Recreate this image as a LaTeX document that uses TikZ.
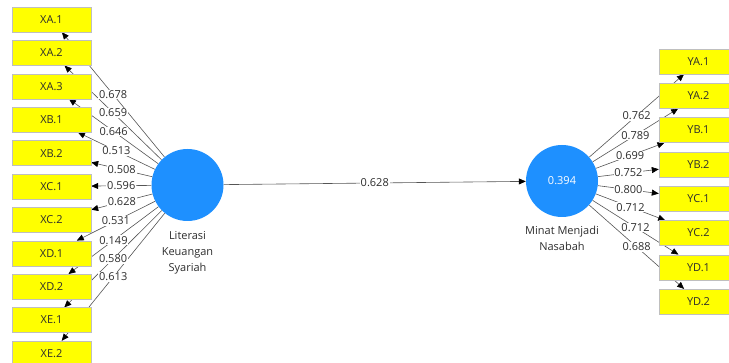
\documentclass[tikz,border=0pt]{standalone}
\usepackage{fontspec}
\setmainfont{Open Sans}
\usetikzlibrary{arrows.meta}
\pgfdeclarelayer{edges}
\pgfdeclarelayer{labels}
\pgfsetlayers{edges,labels,main}
\definecolor{lv}{RGB}{30,144,255}
\definecolor{boxfill}{RGB}{255,255,0}
\definecolor{edgecol}{RGB}{85,85,85}
\definecolor{txt}{RGB}{45,45,45}
\tikzset{
  ind/.style={draw=black!25, fill=boxfill, minimum width=79pt, minimum height=25pt, inner sep=0pt, font=\fontsize{11}{12}\selectfont, text=txt},
  lvar/.style={circle, fill=lv, minimum size=72pt, inner sep=0pt},
  edgeline/.style={draw=edgecol, line width=0.6pt, -{Triangle[length=7pt,width=6pt,color=black]}},
  wlab/.style={fill=white, inner sep=0.8pt, font=\fontsize{11}{12}\selectfont, text=txt},
  lvname/.style={align=center, inner sep=0pt, anchor=north, font=\fontsize{11}{16}\selectfont, text=txt},
}
\begin{document}
\begin{tikzpicture}[x=1pt,y=-1pt]
\useasboundingbox (0,0) rectangle (729,363);
\clip (0,0) rectangle (729,363);
\node[lvar] (L) at (187.5,185) {};
\node[lvar, text=white, font=\fontsize{11}{12}\selectfont] (M) at (562,181) {0.394};
\node[lvname] (Lname) at ([yshift=-10pt]L.south) {Literasi\\Keuangan\\Syariah};
\node[lvname] (Mname) at ([yshift=-9pt]M.south) {Minat Menjadi\\Nasabah};
\foreach \nm/\t [count=\i from 0] in {xa1/XA.1,xa2/XA.2,xa3/XA.3,xb1/XB.1,xb2/XB.2,xc1/XC.1,xc2/XC.2,xd1/XD.1,xd2/XD.2,xe1/XE.1,xe2/XE.2}
  \node[ind] (\nm) at (51.5,19.5+33.4*\i) {\t};
\foreach \nm/\t [count=\i from 0] in {ya1/YA.1,ya2/YA.2,yb1/YB.1,yb2/YB.2,yc1/YC.1,yc2/YC.2,yd1/YD.1,yd2/YD.2}
  \node[ind] (\nm) at (698.5,61.5+34.3*\i) {\t};
\begin{pgfonlayer}{edges}
  \foreach \nm in {xa1,xa2,xa3,xb1,xb2,xc1,xc2,xd1,xd2,xe1,xe2}
    \draw[edgeline] (L) -- (\nm);
  \foreach \nm in {ya1,ya2,yb1,yb2,yc1,yc2,yd1,yd2}
    \draw[edgeline] (M) -- (\nm);
  \draw[edgeline] (L) -- (M);
\end{pgfonlayer}
\begin{pgfonlayer}{labels}
  \foreach \nm/\v in {xa1/0.678,xa2/0.659,xa3/0.646,xb1/0.513,xb2/0.508,xc1/0.596,xc2/0.628,xd1/0.531,xd2/0.149,xe1/0.580,xe2/0.613}
    \path (L) -- (\nm) node[wlab, midway] {\v};
  \foreach \nm/\v in {ya1/0.762,ya2/0.789,yb1/0.699,yb2/0.752,yc1/0.800,yc2/0.712,yd1/0.712,yd2/0.688}
    \path (M) -- (\nm) node[wlab, midway] {\v};
  \path (L) -- (M) node[wlab, midway] {0.628};
\end{pgfonlayer}
\end{tikzpicture}
\end{document}
